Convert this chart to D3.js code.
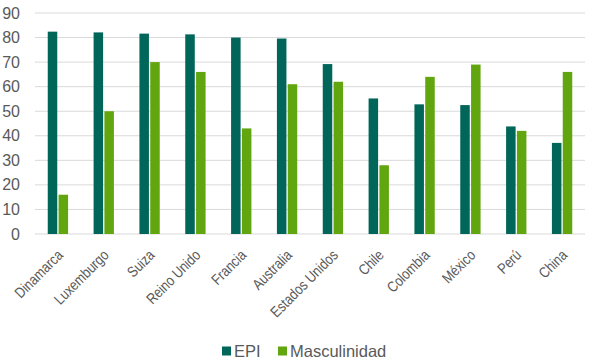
<!DOCTYPE html>
<html>
<head>
<meta charset="utf-8">
<script src="https://cdn.jsdelivr.net/npm/d3@7"></script>
<style>
  body { margin: 0; background: #fff; }
  text { font-family: "Liberation Sans", Arial, sans-serif; fill: #595959; }
</style>
</head>
<body>
<svg id="chart"></svg>
<script>
// Data
var countries = ["Dinamarca", "Luxemburgo", "Suiza", "Reino Unido", "Francia", "Australia",
    "Estados Unidos", "Chile", "Colombia", "México", "Perú", "China"];
var epi = [82.4, 82.1, 81.6, 81.3, 80.0, 79.6, 69.2, 55.2, 52.8, 52.5, 43.8, 37.1];
var masculinidad = [16, 50, 70, 66, 43, 61, 62, 28, 64, 69, 42, 66];
var seriesNames = ["EPI", "Masculinidad"];
var yTicks = [0, 10, 20, 30, 40, 50, 60, 70, 80, 90];

var colors = { "EPI": "#00665a", "Masculinidad": "#62a60f" };

var margin = { top: 13, right: 4, bottom: 130, left: 35 },
    width = 589 - margin.left - margin.right,
    height = 364 - margin.top - margin.bottom;

var data = countries.map(function (c, i) {
    return { country: c, EPI: epi[i], Masculinidad: masculinidad[i] };
});

var svg = d3.select("#chart")
    .attr("width", 589)
    .attr("height", 364)
    .append("g")
    .attr("transform", "translate(" + margin.left + "," + margin.top + ")");

var x0 = d3.scaleBand()
    .domain(countries)
    .range([0, width])
    .paddingInner(0.5)
    .paddingOuter(0.25);

var x1 = d3.scaleBand()
    .domain(seriesNames)
    .range([0, x0.bandwidth()])
    .padding(0.12);

var y = d3.scaleLinear()
    .domain([0, 90])
    .range([height, 0]);

// Gridlines
svg.append("g")
    .selectAll("line")
    .data(yTicks)
    .enter().append("line")
    .attr("x1", 0)
    .attr("x2", width)
    .attr("y1", d => y(d))
    .attr("y2", d => y(d))
    .attr("stroke", "#d9d9d9")
    .attr("stroke-width", 1);

// Y tick labels
svg.append("g")
    .selectAll("text")
    .data(yTicks)
    .enter().append("text")
    .attr("x", -15)
    .attr("y", d => y(d))
    .attr("dy", "0.35em")
    .attr("text-anchor", "end")
    .style("font-size", "16px")
    .text(d => d);

// Bars
var groups = svg.append("g")
    .selectAll("g")
    .data(data)
    .enter().append("g")
    .attr("transform", d => "translate(" + x0(d.country) + ",0)");

groups.selectAll("rect")
    .data(d => seriesNames.map(k => ({ key: k, value: d[k] })))
    .enter().append("rect")
    .attr("x", d => x1(d.key))
    .attr("y", d => y(d.value))
    .attr("width", x1.bandwidth())
    .attr("height", d => height - y(d.value))
    .attr("fill", d => colors[d.key]);

// X labels, rotated, narrow
svg.append("g")
    .selectAll("text")
    .data(countries)
    .enter().append("text")
    .attr("text-anchor", "end")
    .attr("transform", d => "translate(" + (x0(d) + x0.bandwidth() / 2 + 6) + "," + (height + 22) + ") rotate(-45) scale(0.84,1)")
    .style("font-size", "15px")
    .text(d => d);

// Legend
var legend = svg.append("g")
    .attr("transform", "translate(" + (222 - margin.left) + "," + (351 - margin.top) + ")");

var legendX = [0, 56];
seriesNames.forEach(function (s, i) {
    legend.append("rect")
        .attr("x", legendX[i])
        .attr("y", -4.5)
        .attr("width", 9)
        .attr("height", 9)
        .attr("fill", colors[s]);
    legend.append("text")
        .attr("x", legendX[i] + 12)
        .attr("y", 0)
        .attr("dy", "0.36em")
        .style("font-size", "16.5px")
        .text(s);
});
</script>
</body>
</html>
